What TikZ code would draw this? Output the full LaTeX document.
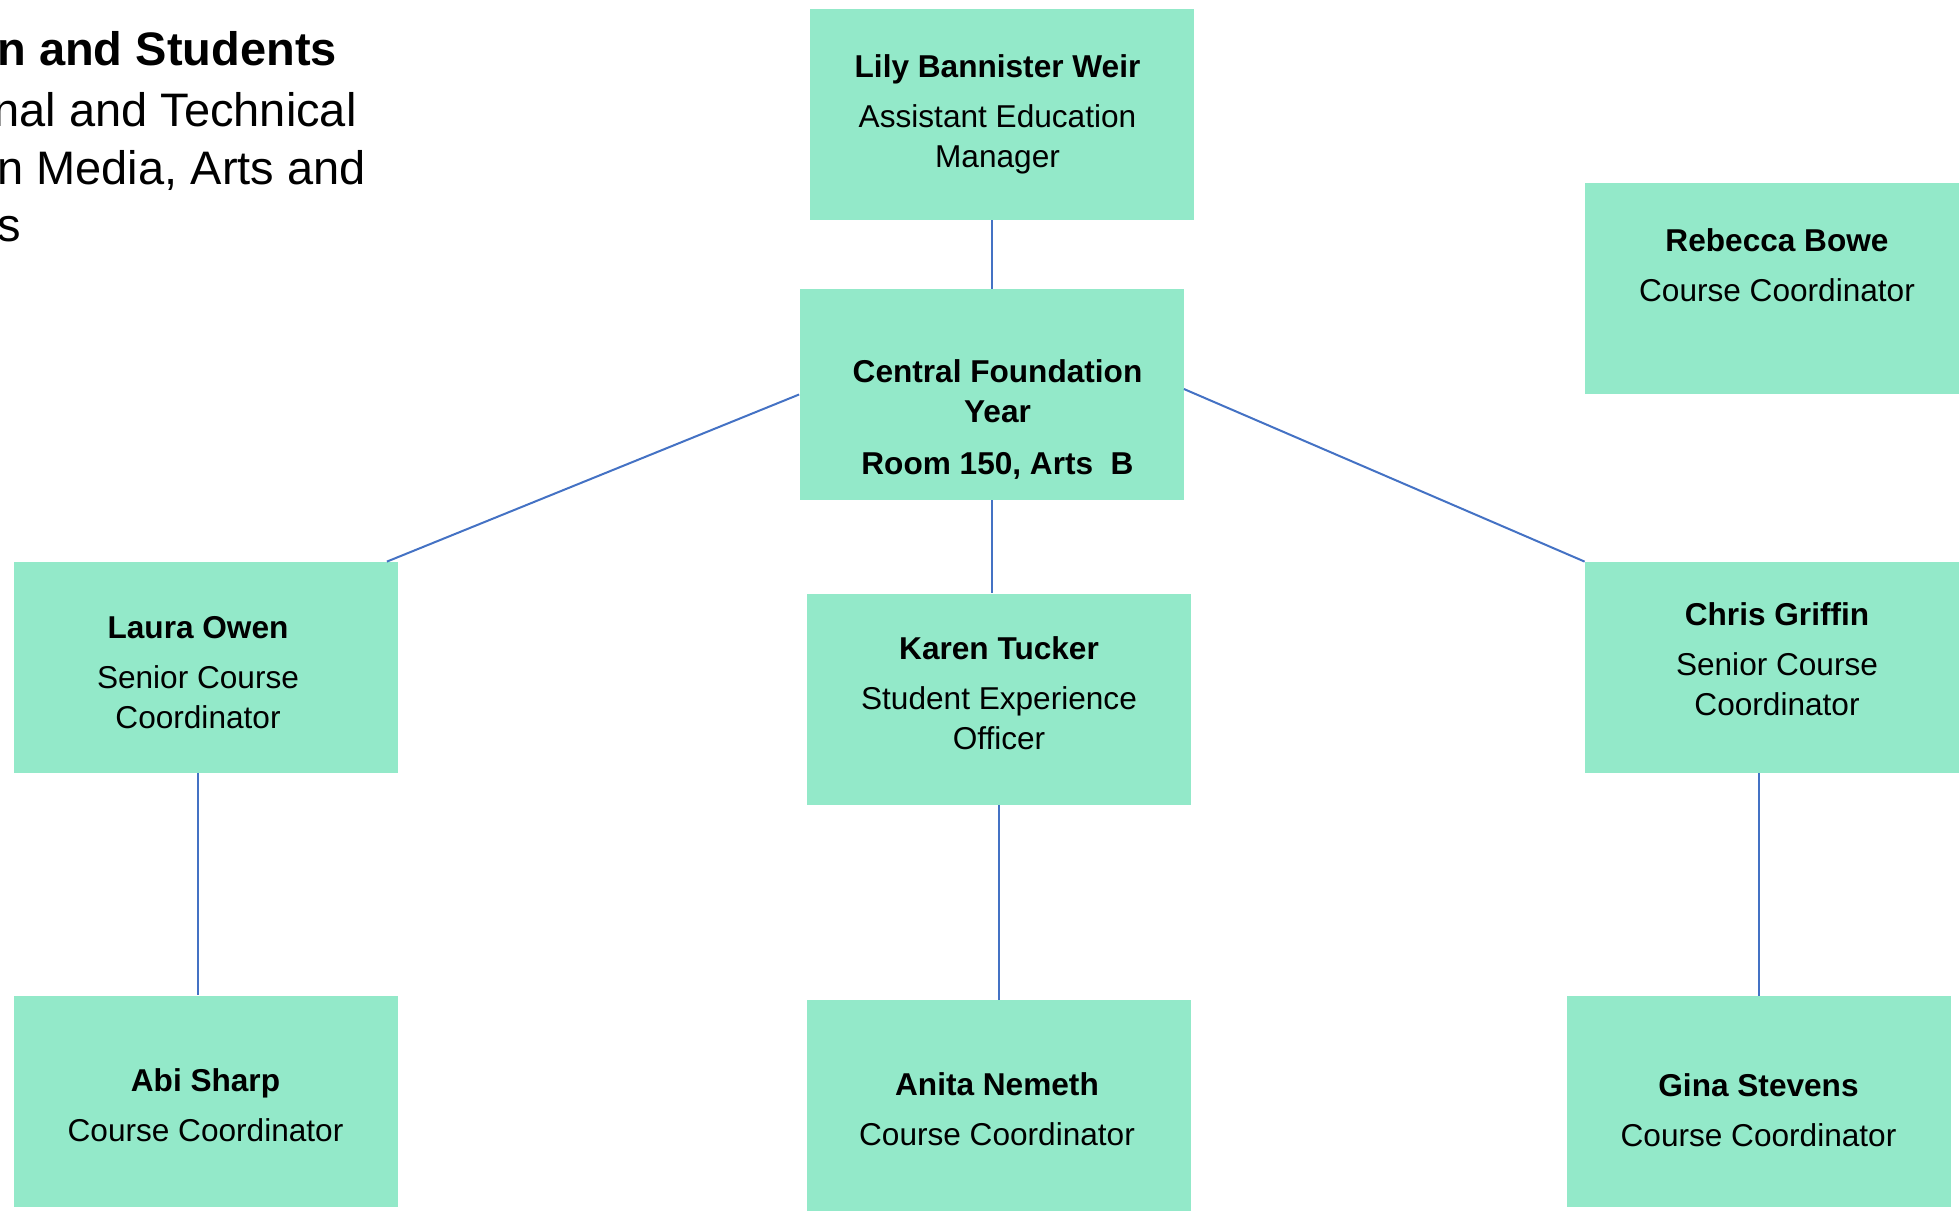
\documentclass[tikz,border=0pt]{standalone}
\usepackage{fontspec}
\setmainfont{Liberation Sans}
\usetikzlibrary{positioning}
\definecolor{boxgreen}{RGB}{147,233,201}
\definecolor{linkblue}{RGB}{68,114,196}
\tikzset{
  staffbox/.style={rectangle,fill=boxgreen,minimum width=192pt,minimum height=105.5pt,inner sep=0pt},
  stafftext/.style={align=center,inner sep=0pt,font=\fontsize{15.8}{20}\selectfont},
  link/.style={line width=1pt,linkblue},
  headline/.style={anchor=base west,inner sep=0pt,font=\fontsize{23.5}{28}\selectfont}
}

\begin{document}
\begin{tikzpicture}[x=0.5pt,y=-0.5pt]
    \useasboundingbox (0,0) rectangle (1959,1211);
    \clip (0,0) rectangle (1959,1211);
    % Heading (cut at the left edge)
    \node[headline] (head1) at (-3,65) {\textbf{n and Students}};
    \node[headline] (head2) at (-7,126) {nal and Technical};
    \node[headline] (head3) at (-3,184) {n Media, Arts and};
    \node[headline] (head4) at (-3,241) {s};
    % Top row
    \node[staffbox] (lily) at (1001.5,114.5) {};
    \node[stafftext] (lily-txt) at ([xshift=-2pt]lily.center) {\textbf{Lily Bannister Weir}\\[5pt]Assistant Education\\Manager};
    \node[staffbox] (central) at (991.5,394.5) {};
    \node[stafftext] (central-txt) at ([xshift=3pt,yshift=-12.5pt]central.center) {\textbf{Central Foundation}\\\textbf{Year}\\[6pt]\textbf{Room 150, Arts~ B}};
    \node[staffbox] (rebecca) at (1777,288) {};
    \node[stafftext] (rebecca-txt) at ([yshift=11.25pt]rebecca.center) {\textbf{Rebecca Bowe}\\[5pt]Course Coordinator};
    % Middle row
    \node[staffbox] (laura) at (205.5,667.5) {};
    \node[stafftext] (laura-txt) at ([xshift=-3.75pt,yshift=-2.5pt]laura.center) {\textbf{Laura Owen}\\[5pt]Senior Course\\Coordinator};
    \node[staffbox] (karen) at (999,699) {};
    \node[stafftext] (karen-txt) at ([yshift=3pt]karen.center) {\textbf{Karen Tucker}\\[5pt]Student Experience\\Officer};
    \node[staffbox] (chris) at (1777,667.5) {};
    \node[stafftext] (chris-txt) at ([yshift=4.4pt]chris.center) {\textbf{Chris Griffin}\\[5pt]Senior Course\\Coordinator};
    % Bottom row
    \node[staffbox] (abi) at (205.5,1101) {};
    \node[stafftext] (abi-txt) at ([yshift=-1.9pt]abi.center) {\textbf{Abi Sharp}\\[5pt]Course Coordinator};
    \node[staffbox] (anita) at (999,1105.5) {};
    \node[stafftext] (anita-txt) at ([xshift=-1pt,yshift=-1.9pt]anita.center) {\textbf{Anita Nemeth}\\[5pt]Course Coordinator};
    \node[staffbox] (gina) at (1758.5,1101.5) {};
    \node[stafftext] (gina-txt) at ([yshift=-4.4pt]gina.center) {\textbf{Gina Stevens}\\[5pt]Course Coordinator};
    % Links
    \draw[link] (lily.south -| central.north) to (central.north);
    \draw[link] (central.west) to ([xshift=-5.5pt]laura.north east);
    \draw[link] ([yshift=2.75pt]central.east) to (chris.north west);
    \draw[link] (central.south) to (central.south |- karen.north);
    \draw[link] (karen.south) to (anita.north);
    \draw[link] ([xshift=-4pt]laura.south) to ([xshift=-4pt]abi.north);
    \draw[link] (gina.north |- chris.south) to (gina.north);
\end{tikzpicture}
\end{document}
